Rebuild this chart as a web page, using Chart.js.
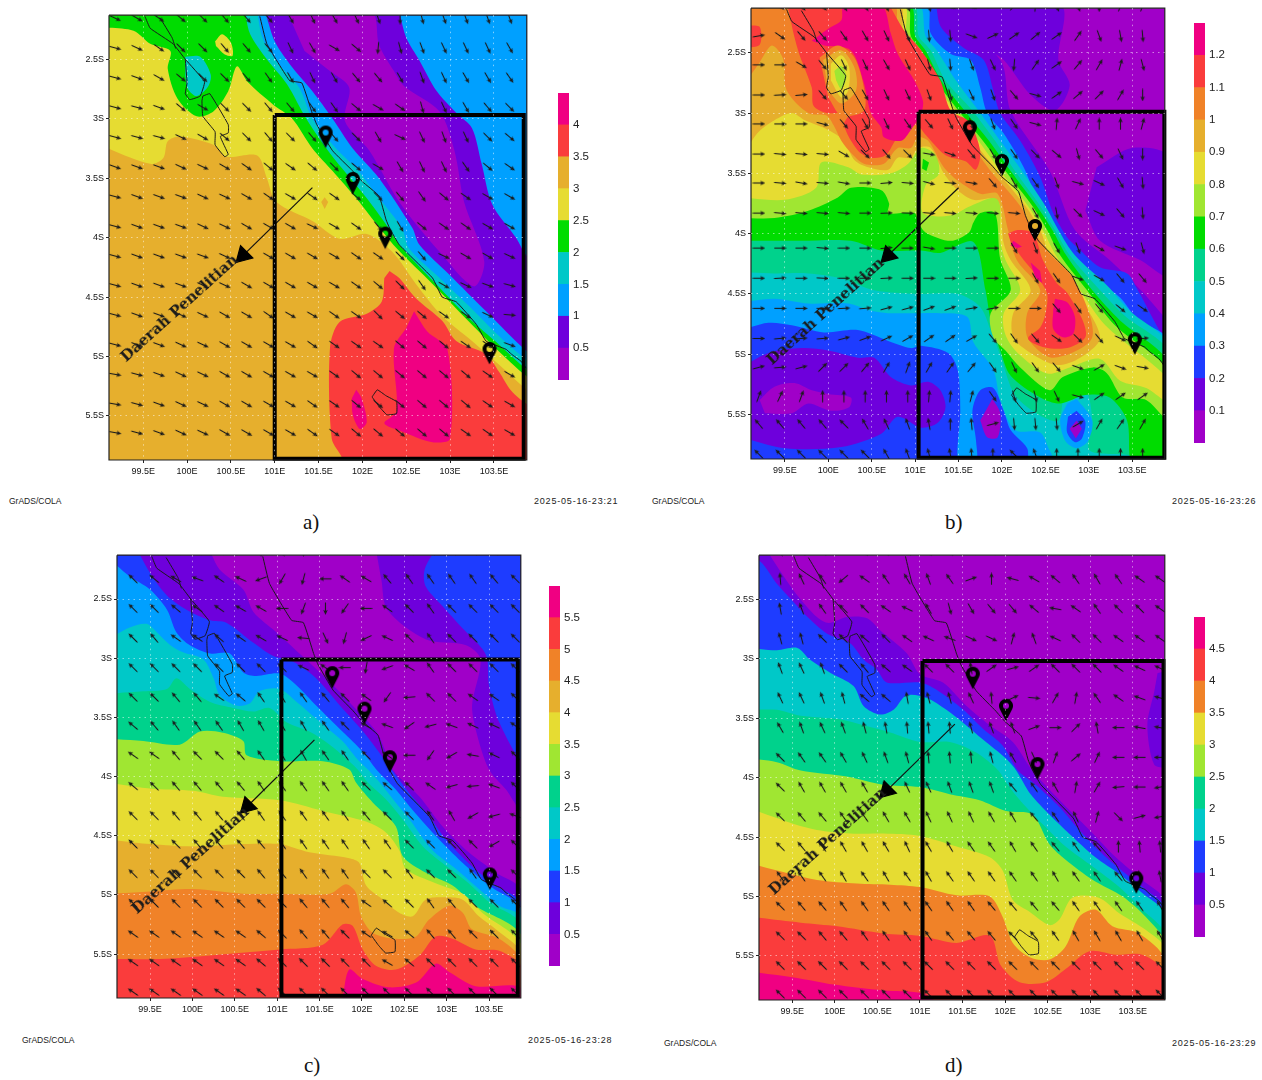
<!DOCTYPE html>
<html>
<head>
<meta charset="utf-8">
<title>GrADS maps</title>
<script src="https://cdn.jsdelivr.net/npm/chart.js@4"></script>
<style>
  html, body { margin: 0; background: #fff; }
  #page { position: relative; width: 1262px; height: 1080px; overflow: hidden; }
  canvas { position: absolute; }
  .stamp { position: absolute; font: 9px "Liberation Sans", sans-serif; color: #222; letter-spacing: .8px; white-space: nowrap; }
  .grads { position: absolute; font: 8.5px "Liberation Sans", sans-serif; color: #222; white-space: nowrap; }
  .caption { position: absolute; font: 21px "Liberation Serif", serif; color: #111; }
  .area { position: absolute; font: bold 15px "DejaVu Serif", serif; color: #1a1a1a; white-space: nowrap; transform: translate(-50%, -50%) rotate(-42deg); }
</style>
</head>
<body>
<div id="page"></div>
<script>
"use strict";

// axis range and ticks, shared by the four maps
const lonRange = [99.11, 103.875];
const latRange = [2.13, 5.87];
const lonTicks = [99.5, 100, 100.5, 101, 101.5, 102, 102.5, 103, 103.5];
const latTicks = [2.5, 3, 3.5, 4, 4.5, 5, 5.5];

// GrADS rainbow
const palette = ["#a000c8", "#6e00dc", "#1e3cff", "#00a0ff", "#00c8c8", "#00d28c", "#00dc00",
                 "#a0e632", "#e6dc32", "#e6af2d", "#f08228", "#fa3c3c", "#f00082"];

// colour bars: labels and palette index of each band
const levelsA = [0.5, 1, 1.5, 2, 2.5, 3, 3.5, 4];
const bandsA = [0, 1, 3, 4, 6, 8, 9, 11, 12];
const levelsB = [0.1, 0.2, 0.3, 0.4, 0.5, 0.6, 0.7, 0.8, 0.9, 1, 1.1, 1.2];
const bandsB = [0, 1, 2, 3, 4, 5, 6, 7, 8, 9, 10, 11, 12];
const levelsC = [0.5, 1, 1.5, 2, 2.5, 3, 3.5, 4, 4.5, 5, 5.5];
const bandsC = [0, 1, 2, 3, 4, 5, 7, 8, 9, 10, 11, 12];
const levelsD = [0.5, 1, 1.5, 2, 2.5, 3, 3.5, 4, 4.5];
const bandsD = [0, 1, 2, 4, 5, 7, 8, 10, 11, 12];

// coastline and islands, lon / lat south
const coastMain = [[100.83,2.14],[100.91,2.37],[101.17,2.68],[101.31,2.70],[101.43,2.96],[101.48,3.05],[101.66,3.27],[101.89,3.44],[102.0,3.53],[102.19,3.65],[102.27,3.85],[102.31,3.92],[102.42,4.06],[102.80,4.34],[102.91,4.50],[103.07,4.54],[103.30,4.73],[103.41,4.87],[103.64,4.94],[103.70,4.98],[103.81,5.04],[103.87,5.10]];
const coastNorth = [[99.52,2.14],[99.58,2.24],[99.84,2.37],[99.98,2.5],[100.2,2.69],[100.15,2.81],[100.03,2.84],[99.98,2.79],[100.0,2.70],[99.98,2.5]];
const coastBranch = [[99.69,2.15],[99.83,2.32],[99.87,2.41]];
const lakeOutline = [[100.18,2.81],[100.26,2.79],[100.47,3.05],[100.47,3.12],[100.38,3.15],[100.47,3.30],[100.43,3.32],[100.32,3.22],[100.32,3.11],[100.18,2.98],[100.17,2.85],[100.18,2.81]];
const islandOutline = [[102.11,5.34],[102.17,5.28],[102.27,5.33],[102.39,5.38],[102.39,5.48],[102.28,5.49],[102.19,5.42],[102.11,5.34]];

// contour areas, painted in order: [palette index, outline]
const contoursA = [
  [9, [[99,2],[104,2],[104,6],[99,6]]],
  [11, [[102.31,4.28],[102.42,4.34],[102.61,4.51],[102.91,4.7],[103.07,4.87],[103.41,4.98],[103.56,5.13],[103.7,5.29],[103.88,5.4],[104,5.42],[104,6],[101.77,6],[101.77,5.86],[101.65,5.69],[101.63,4.93],[101.74,4.71],[102.05,4.64],[102.22,4.54],[102.25,4.34]]],
  [12, [[102.59,4.62],[102.74,4.79],[102.97,4.94],[103.0,5.69],[102.80,5.72],[102.45,5.63],[102.25,5.56],[102.39,5.46],[102.36,4.93],[102.5,4.76]]],
  [12, [[101.93,5.28],[101.99,5.35],[102.05,5.55],[101.97,5.61],[101.89,5.49],[101.88,5.35]]],
  [8, [[99,3.22],[99.58,3.38],[99.73,3.33],[99.78,3.19],[99.92,3.15],[100.30,3.22],[100.45,3.32],[100.80,3.31],[100.91,3.50],[101.02,3.70],[101.43,3.86],[101.74,4.01],[102.05,3.97],[102.34,4.12],[102.61,4.39],[102.91,4.66],[103.25,4.87],[103.56,5.07],[103.88,5.28],[104,5.3],[104,2],[99,2]]],
  [9, [[101.57,3.66],[101.61,3.70],[101.57,3.76],[101.53,3.70]]],
  [6, [[99,2.23],[99.39,2.26],[99.58,2.37],[99.81,2.43],[99.78,2.58],[99.89,2.83],[100.11,2.98],[100.30,2.94],[100.47,2.77],[100.57,2.56],[100.69,2.69],[100.98,2.88],[101.20,3.0],[101.43,3.25],[101.66,3.44],[101.93,3.67],[102.11,3.84],[102.39,4.09],[102.80,4.39],[103.18,4.68],[103.52,4.93],[103.88,5.17],[104,5.2],[104,2],[99,2]]],
  [8, [[100.32,2.35],[100.40,2.29],[100.50,2.36],[100.52,2.47],[100.43,2.46],[100.33,2.39]]],
  [4, [[99.98,2.48],[100.15,2.48],[100.27,2.63],[100.24,2.73],[100.11,2.81],[100.01,2.75],[99.98,2.64]]],
  [4, [[100.66,2.1],[100.72,2.29],[100.91,2.5],[101.14,2.71],[101.36,3.0],[101.59,3.25],[101.77,3.42],[102.05,3.67],[102.27,3.89],[102.42,4.06],[102.84,4.39],[103.22,4.68],[103.56,4.9],[103.88,5.11],[104,5.14],[104,2]]],
  [3, [[100.8,2.1],[100.86,2.32],[101.02,2.52],[101.28,2.74],[101.43,3.0],[101.70,3.25],[101.93,3.42],[102.19,3.67],[102.45,3.92],[102.53,4.09],[102.88,4.34],[103.25,4.6],[103.59,4.85],[103.88,5.03],[104,5.06],[104,2]]],
  [1, [[100.89,2.1],[101.0,2.35],[101.17,2.54],[101.43,2.77],[101.66,3.0],[101.89,3.25],[102.19,3.5],[102.57,3.92],[102.65,4.06],[102.99,4.31],[103.41,4.62],[103.88,4.96],[104,5],[104,2]]],
  [0, [[101.14,2.1],[102.1,2.1],[102.19,2.38],[102.36,2.6],[102.48,2.73],[102.88,2.94],[103.05,3.27],[103.16,3.7],[103.39,4.2],[103.27,4.41],[102.88,4.12],[102.42,3.7],[102.08,3.27],[101.8,3.02],[101.85,2.74],[101.63,2.6],[101.34,2.43]]],
  [3, [[102.42,2.1],[102.5,2.32],[102.65,2.51],[102.84,2.76],[103.07,2.95],[103.25,3.08],[103.36,3.38],[103.48,3.72],[103.75,4.0],[103.88,4.16],[104,4.2],[104,2]]]
];

const contoursB = [
  [0, [[99,2],[104,2],[104,6],[99,6]]],
  [1, [[101.24,2.1],[101.98,2.56],[102.10,2.98],[102.55,3.48],[102.84,3.97],[103.24,4.22],[103.70,4.55],[103.93,4.80],[104,6.1],[99,6.1],[99,2.1]]],
  [1, [[101.18,2.1],[102.67,2.1],[102.65,2.56],[102.78,2.77],[102.61,2.98],[102.33,2.85],[102.02,2.56],[101.87,2.50],[101.24,2.44]]],
  [1, [[103.09,3.45],[103.50,3.29],[103.93,3.37],[103.93,4.35],[103.59,4.22],[103.13,4.06],[102.96,3.81]]],
  [2, [[101.24,2.1],[101.30,2.29],[101.56,2.46],[101.79,2.56],[101.90,2.81],[101.98,3.0],[102.21,3.23],[102.44,3.53],[102.59,3.83],[102.75,4.03],[102.86,4.11],[103.13,4.28],[103.44,4.33],[103.55,4.45],[103.81,4.80],[103.93,4.93],[104,6.1],[99,6.1],[99,2.1]]],
  [3, [[99,4.80],[99.31,4.74],[99.58,4.76],[99.95,4.82],[100.34,4.80],[100.69,4.89],[100.95,4.95],[101.07,4.93],[101.38,4.99],[101.49,5.13],[101.52,5.47],[101.50,5.92],[101.70,5.92],[101.70,5.71],[101.66,5.47],[101.75,5.30],[101.90,5.28],[102.02,5.47],[102.10,5.63],[102.29,5.78],[102.33,5.92],[103.93,5.92],[103.93,4.90],[103.55,4.70],[103.36,4.53],[103.05,4.36],[102.70,4.14],[102.63,4.0],[102.44,3.78],[102.25,3.45],[102.02,3.17],[101.83,3.0],[101.75,2.79],[101.64,2.56],[101.41,2.51],[101.18,2.34],[101.12,2.1],[99,2.1]]],
  [4, [[99,4.57],[99.38,4.54],[99.77,4.58],[100.23,4.58],[100.49,4.64],[100.69,4.66],[101.03,4.66],[101.29,4.66],[101.60,4.69],[101.67,4.90],[101.90,5.13],[101.98,5.38],[102.15,5.63],[102.44,5.65],[102.55,5.80],[102.67,5.92],[103.93,5.92],[103.93,4.94],[103.47,4.64],[103.21,4.43],[102.84,4.18],[102.65,3.97],[102.50,3.77],[102.23,3.48],[101.98,3.23],[101.73,2.98],[101.47,2.73],[101.25,2.48],[101.12,2.36],[101.03,2.1],[99,2.1]]],
  [5, [[99,4.32],[99.38,4.33],[99.77,4.33],[100.15,4.37],[100.53,4.47],[101.03,4.50],[101.49,4.50],[101.75,4.61],[101.87,4.80],[101.98,5.01],[102.15,5.34],[102.44,5.51],[102.65,5.55],[102.73,5.34],[102.96,5.30],[103.04,5.55],[103.01,5.80],[103.47,5.84],[103.47,5.92],[103.93,5.92],[103.93,5.0],[103.41,4.68],[103.13,4.47],[102.78,4.18],[102.61,3.97],[102.44,3.77],[102.15,3.48],[101.92,3.23],[101.66,2.98],[101.35,2.73],[101.18,2.48],[101.04,2.36],[100.97,2.1],[99,2.1]]],
  [6, [[99,4.06],[99.69,4.06],[100.26,4.06],[100.61,4.14],[101.07,4.14],[101.29,4.16],[101.67,4.07],[101.81,4.47],[101.87,4.72],[101.98,4.97],[102.10,5.18],[102.44,5.36],[102.67,5.41],[102.96,5.34],[103.24,5.36],[103.44,5.55],[103.51,5.92],[103.93,5.92],[103.93,5.09],[103.36,4.72],[103.04,4.47],[102.74,4.18],[102.58,3.97],[102.40,3.77],[102.10,3.48],[101.85,3.23],[101.57,2.98],[101.30,2.73],[101.12,2.48],[101.0,2.36],[100.93,2.1],[99,2.1]]],
  [7, [[99,3.87],[99.38,3.87],[99.77,3.81],[100.11,3.70],[100.26,3.62],[100.61,3.64],[100.70,3.75],[100.69,3.83],[100.99,3.83],[101.04,3.91],[101.12,3.99],[101.41,4.06],[101.62,3.99],[101.67,3.91],[101.75,3.83],[101.92,3.83],[101.98,4.21],[102.10,4.47],[101.87,4.66],[101.90,4.86],[102.04,4.97],[102.21,5.11],[102.55,5.30],[102.70,5.19],[103.05,5.11],[103.21,5.16],[103.39,5.36],[103.66,5.38],[103.93,5.55],[103.93,5.15],[103.30,4.76],[102.98,4.47],[102.67,4.18],[102.52,3.97],[102.35,3.77],[102.04,3.48],[101.78,3.23],[101.50,2.98],[101.24,2.73],[101.07,2.48],[100.95,2.36],[100.89,2.1],[99,2.1]]],
  [8, [[99,3.70],[99.5,3.72],[99.86,3.62],[99.92,3.41],[100.23,3.45],[100.38,3.51],[100.72,3.50],[100.92,3.42],[101.07,3.29],[101.24,3.35],[101.27,3.51],[101.12,3.60],[101.09,3.83],[101.41,3.85],[101.64,3.77],[101.95,3.71],[101.98,4.06],[102.04,4.22],[102.21,4.47],[102.02,4.66],[102.04,4.84],[102.18,4.99],[102.52,5.16],[102.78,5.11],[103.13,5.04],[103.36,5.22],[103.66,5.28],[103.93,5.40],[103.93,5.22],[103.19,4.76],[102.90,4.47],[102.62,4.18],[102.47,3.97],[102.30,3.77],[101.98,3.48],[101.73,3.23],[101.47,2.98],[101.18,2.73],[101.01,2.48],[100.90,2.36],[100.86,2.1],[99,2.1]]],
  [9, [[99,3.37],[99.18,3.17],[99.38,3.06],[99.58,3.0],[99.73,3.06],[100.0,3.14],[100.18,3.23],[100.30,3.39],[100.46,3.45],[100.69,3.47],[100.80,3.37],[100.95,3.37],[101.03,3.29],[101.18,3.29],[101.33,3.50],[101.49,3.64],[101.67,3.72],[101.95,3.72],[102.02,4.08],[102.10,4.22],[102.33,4.47],[102.13,4.66],[102.13,4.86],[102.33,4.99],[102.63,5.09],[102.90,5.03],[103.13,4.86],[102.84,4.47],[102.55,4.18],[102.44,3.97],[102.27,3.77],[101.94,3.48],[101.67,3.23],[101.41,2.98],[101.12,2.73],[100.95,2.48],[100.86,2.36],[100.81,2.1],[99,2.1]]],
  [10, [[99,2.79],[99.2,2.59],[99.35,2.44],[99.48,2.55],[99.52,2.81],[99.77,3.0],[99.98,3.02],[100.06,3.10],[100.15,3.23],[100.26,3.33],[100.41,3.42],[100.64,3.42],[100.80,3.29],[100.95,3.29],[101.03,3.20],[101.15,3.23],[101.33,3.45],[101.49,3.56],[101.75,3.67],[101.95,3.67],[102.07,3.97],[102.17,4.22],[102.44,4.47],[102.29,4.66],[102.30,4.87],[102.59,5.03],[103.04,4.86],[102.84,4.39],[102.52,4.14],[102.36,3.97],[102.21,3.77],[101.87,3.48],[101.62,3.23],[101.38,2.98],[101.08,2.73],[100.89,2.48],[100.79,2.31],[100.75,2.1],[99,2.1]]],
  [11, [[99.53,2.1],[99.60,2.34],[99.67,2.52],[99.81,2.79],[99.83,2.94],[99.98,3.0],[100.24,3.0],[100.18,3.10],[100.34,3.31],[100.49,3.37],[100.66,3.35],[100.80,3.20],[101.01,3.10],[101.12,3.18],[101.35,3.35],[101.58,3.40],[101.70,3.47],[101.75,3.32],[101.62,3.07],[101.41,2.98],[101.29,2.73],[101.07,2.48],[100.87,2.31],[100.70,2.1]]],
  [11, [[99,2.28],[99.2,2.28],[99.23,2.36],[99.2,2.44],[99,2.46]]],
  [11, [[102.07,4.0],[102.18,3.97],[102.36,4.0],[102.47,4.22],[102.63,4.41],[102.75,4.49],[102.93,4.72],[102.96,4.86],[102.75,4.95],[102.47,4.94],[102.30,4.87],[102.44,4.78],[102.50,4.67],[102.52,4.50],[102.41,4.36],[102.25,4.22],[102.10,4.07]]],
  [12, [[99.81,2.40],[100.0,2.30],[100.15,2.23],[100.18,2.1],[100.61,2.1],[100.72,2.34],[100.80,2.51],[100.99,2.73],[101.09,2.90],[101.07,3.0],[100.95,3.14],[100.84,3.23],[100.64,3.20],[100.61,3.12],[100.49,3.0],[100.41,2.75],[100.26,2.48],[99.95,2.44]]],
  [10, [[99.9,2.54],[100.11,2.44],[100.30,2.54],[100.41,2.79],[100.41,2.98],[100.15,3.02],[100.0,2.87]]],
  [9, [[99.94,2.56],[100.15,2.48],[100.30,2.62],[100.32,2.81],[100.15,2.92],[100.0,2.81]]],
  [8, [[100.03,2.59],[100.15,2.52],[100.24,2.62],[100.23,2.81],[100.15,2.87],[100.03,2.73]]],
  [7, [[100.07,2.65],[100.15,2.61],[100.21,2.70],[100.15,2.80],[100.09,2.73]]],
  [12, [[102.13,4.06],[102.23,4.11],[102.18,4.12],[102.10,4.10]]],
  [12, [[102.33,4.24],[102.44,4.31],[102.46,4.41],[102.38,4.36]]],
  [12, [[102.61,4.54],[102.75,4.57],[102.84,4.69],[102.82,4.83],[102.70,4.86],[102.59,4.79],[102.59,4.64]]],
  [6, [[101.09,3.38],[101.16,3.41],[101.13,3.48],[101.08,3.46]]],
  [1, [[99,5.11],[99.31,4.99],[99.69,4.95],[100.0,4.97],[100.34,5.03],[100.53,5.03],[100.72,5.19],[100.95,5.26],[101.15,5.23],[101.29,5.30],[101.35,5.44],[101.26,5.57],[101.07,5.61],[100.80,5.52],[100.61,5.66],[100.15,5.77],[99.5,5.78],[99,5.69]]],
  [0, [[99.21,5.38],[99.38,5.27],[99.61,5.24],[99.81,5.30],[100.0,5.33],[100.26,5.36],[100.24,5.44],[100.03,5.47],[99.77,5.41],[99.58,5.49],[99.27,5.49]]],
  [0, [[101.89,5.37],[101.98,5.49],[101.95,5.69],[101.83,5.69],[101.75,5.55]]],
  [3, [[102.86,5.37],[103.04,5.55],[102.99,5.72],[102.86,5.78],[102.73,5.72],[102.67,5.55],[102.75,5.41]]],
  [2, [[102.86,5.47],[102.96,5.56],[102.92,5.70],[102.84,5.73],[102.75,5.65],[102.76,5.52]]],
  [0, [[102.86,5.55],[102.92,5.62],[102.85,5.70],[102.78,5.62]]]
];

const contoursC = [
  [0, [[99,2],[104,2],[104,6],[99,6]]],
  [1, [[100.21,2.1],[100.32,2.25],[100.60,2.42],[100.72,2.61],[100.99,2.78],[101.34,3.01],[101.58,3.17],[101.85,3.37],[102.17,3.62],[102.28,3.79],[102.36,3.94],[102.68,4.17],[102.95,4.42],[103.26,4.64],[103.58,4.81],[103.89,4.97],[104,6.2],[99,6.2],[99,2.1]]],
  [1, [[102.17,2.1],[102.23,2.34],[102.30,2.59],[102.75,2.84],[103.23,2.89],[103.40,3.01],[103.30,3.40],[103.36,3.65],[103.50,3.94],[103.70,4.11],[103.89,4.28],[104,2.1]]],
  [2, [[102.85,2.1],[102.74,2.25],[102.75,2.39],[102.95,2.56],[103.19,2.75],[103.42,2.92],[103.48,3.01],[103.5,3.23],[103.62,3.54],[103.89,3.84],[104,2.1]]],
  [2, [[99.36,2.1],[99.5,2.28],[99.70,2.47],[99.93,2.59],[100.21,2.68],[100.40,2.70],[100.72,2.87],[100.95,2.98],[101.19,3.03],[101.46,3.17],[101.74,3.40],[102.05,3.65],[102.28,3.87],[102.56,4.14],[102.79,4.33],[102.99,4.53],[103.30,4.76],[103.58,4.92],[103.89,5.08],[104,6.2],[99,6.2],[99,2.1]]],
  [3, [[99,2.15],[99.26,2.31],[99.5,2.42],[99.70,2.59],[99.81,2.78],[99.97,2.89],[100.21,2.96],[100.44,2.96],[100.6,3.12],[100.75,3.15],[101.03,3.13],[101.23,3.23],[101.46,3.40],[101.77,3.62],[102.01,3.79],[102.17,3.94],[102.4,4.11],[102.56,4.25],[102.87,4.50],[103.19,4.73],[103.5,4.92],[103.89,5.13],[104,6.2],[99,6.2]]],
  [4, [[99,2.84],[99.26,2.74],[99.46,2.71],[99.58,2.78],[99.74,2.89],[99.89,2.95],[100.13,3.01],[100.25,3.17],[100.32,3.31],[100.52,3.40],[100.68,3.38],[100.79,3.28],[101.03,3.26],[101.23,3.37],[101.54,3.56],[101.77,3.70],[101.93,3.84],[102.07,3.94],[102.21,4.05],[102.40,4.22],[102.56,4.36],[102.83,4.62],[103.11,4.78],[103.38,4.95],[103.62,5.09],[103.89,5.19],[104,6.2],[99,6.2]]],
  [5, [[99,3.30],[99.42,3.28],[99.70,3.26],[99.81,3.17],[99.97,3.26],[100.21,3.37],[100.48,3.42],[100.72,3.45],[100.91,3.42],[101.11,3.54],[101.38,3.62],[101.62,3.73],[101.85,3.87],[101.95,3.94],[102.07,4.05],[102.28,4.19],[102.48,4.36],[102.72,4.59],[102.95,4.73],[103.26,4.90],[103.5,5.06],[103.89,5.26],[104,6.2],[99,6.2]]],
  [7, [[99,3.68],[99.42,3.70],[99.85,3.73],[100.09,3.62],[100.36,3.63],[100.60,3.70],[100.64,3.82],[101.03,3.87],[101.54,3.87],[101.85,3.94],[101.93,4.05],[102.13,4.22],[102.40,4.42],[102.48,4.67],[102.75,4.81],[103.07,4.92],[103.34,5.09],[103.89,5.35],[104,6.2],[99,6.2]]],
  [8, [[99,4.05],[99.5,4.10],[100.01,4.12],[100.36,4.17],[101.03,4.20],[101.54,4.29],[102.05,4.38],[102.28,4.47],[102.44,4.62],[102.52,4.78],[102.87,4.90],[103.19,4.99],[103.42,5.15],[103.89,5.43],[104,6.2],[99,6.2]]],
  [9, [[99,4.53],[99.5,4.57],[100.01,4.59],[100.6,4.57],[101.03,4.57],[101.38,4.64],[101.85,4.69],[101.97,4.73],[102.05,4.92],[102.25,5.04],[102.44,5.15],[102.60,5.18],[102.75,5.04],[102.95,5.02],[103.19,5.04],[103.38,5.18],[103.58,5.29],[103.89,5.50],[104,6.2],[99,6.2]]],
  [10, [[99,4.99],[99.5,4.97],[100.01,4.95],[100.6,4.99],[101.03,4.99],[101.62,4.99],[101.81,4.91],[101.93,4.98],[101.99,5.18],[102.13,5.32],[102.40,5.37],[102.64,5.35],[102.79,5.21],[103.03,5.09],[103.19,5.15],[103.30,5.29],[103.62,5.37],[103.89,5.56],[104,6.2],[99,6.2]]],
  [11, [[99,5.54],[99.62,5.54],[100.21,5.51],[101.03,5.46],[101.54,5.42],[101.77,5.25],[101.89,5.26],[102.01,5.46],[102.17,5.60],[102.40,5.63],[102.68,5.51],[102.87,5.35],[103.07,5.37],[103.34,5.46],[103.62,5.47],[103.89,5.61],[104,6.2],[99,6.2]]],
  [12, [[101.77,5.88],[101.85,5.63],[102.01,5.71],[102.32,5.78],[102.64,5.74],[102.87,5.58],[103.03,5.65],[103.34,5.77],[103.89,5.79],[104,6.2],[101.7,6.2]]]
];

const contoursD = [
  [0, [[99,2],[104,2],[104,6],[99,6]]],
  [1, [[99.21,2.1],[99.52,2.43],[99.79,2.65],[99.93,2.70],[100.14,2.65],[100.38,2.66],[100.53,2.76],[100.84,2.95],[101.0,3.13],[101.27,3.20],[101.55,3.40],[101.82,3.56],[102.09,3.70],[102.32,3.94],[102.64,4.19],[102.99,4.44],[103.30,4.67],[103.61,4.86],[103.88,5.04],[104,6.2],[99,6.2],[99,2.1]]],
  [1, [[103.79,3.12],[103.9,3.12],[103.9,3.90],[103.75,3.89],[103.67,3.56],[103.75,3.28]]],
  [2, [[99,2.12],[99.15,2.20],[99.32,2.37],[99.5,2.51],[99.68,2.65],[99.91,2.79],[100.18,2.87],[100.34,3.01],[100.49,3.09],[100.61,3.20],[101.0,3.20],[101.19,3.26],[101.51,3.43],[101.74,3.59],[101.97,3.73],[102.15,3.94],[102.36,4.06],[102.64,4.25],[102.87,4.44],[103.14,4.64],[103.42,4.81],[103.65,4.94],[103.88,5.10],[104,6.2],[99,6.2]]],
  [4, [[99,2.91],[99.32,2.93],[99.56,2.91],[99.71,3.01],[99.95,3.12],[100.22,3.23],[100.34,3.40],[100.53,3.47],[100.69,3.43],[100.84,3.31],[101.08,3.33],[101.31,3.43],[101.51,3.54],[101.74,3.68],[102.01,3.84],[102.13,3.94],[102.30,4.14],[102.52,4.31],[102.75,4.47],[103.06,4.67],[103.34,4.81],[103.61,4.97],[103.88,5.15],[104,6.2],[99,6.2]]],
  [5, [[99,3.43],[99.32,3.43],[99.60,3.48],[100.06,3.51],[100.34,3.56],[100.65,3.62],[101.0,3.70],[101.35,3.70],[101.66,3.79],[101.92,3.94],[102.03,4.06],[102.21,4.22],[102.48,4.42],[102.71,4.58],[103.03,4.75],[103.34,4.92],[103.61,5.11],[103.88,5.32],[104,6.2],[99,6.2]]],
  [7, [[99,3.84],[99.32,3.87],[99.60,3.94],[100.14,3.99],[100.57,4.06],[101.0,4.08],[101.35,4.14],[101.70,4.19],[102.01,4.28],[102.32,4.31],[102.52,4.56],[102.71,4.69],[103.03,4.86],[103.38,5.0],[103.65,5.17],[103.88,5.39],[104,6.2],[99,6.2]]],
  [8, [[99,4.26],[99.52,4.39],[99.79,4.44],[100.18,4.47],[100.57,4.47],[101.0,4.49],[101.43,4.58],[101.82,4.67],[101.97,4.78],[102.09,5.03],[102.29,5.13],[102.52,5.24],[102.64,5.19],[102.79,5.01],[103.10,5.01],[103.34,5.14],[103.65,5.28],[103.88,5.44],[104,6.2],[99,6.2]]],
  [10, [[99,4.72],[99.48,4.81],[99.79,4.86],[100.26,4.89],[100.65,4.90],[101.0,4.92],[101.43,4.99],[101.82,5.0],[101.97,5.17],[102.09,5.39],[102.29,5.51],[102.52,5.53],[102.71,5.42],[102.87,5.17],[103.06,5.11],[103.26,5.25],[103.57,5.31],[103.88,5.53],[104,6.2],[99,6.2]]],
  [11, [[99,5.17],[99.60,5.22],[100.03,5.25],[100.57,5.31],[101.0,5.33],[101.43,5.39],[101.82,5.33],[101.95,5.58],[102.17,5.72],[102.48,5.72],[102.71,5.61],[102.99,5.46],[103.30,5.49],[103.61,5.49],[103.88,5.64],[104,6.2],[99,6.2]]],
  [12, [[99,5.63],[99.52,5.68],[99.99,5.74],[100.57,5.79],[101.0,5.81],[101.19,5.89],[101.19,5.95],[99,5.95]]]
];

// wind vectors: grid positions and direction of each arrow (degrees clockwise from east)
const windLonA = [99.18,99.43,99.68,99.93,100.18,100.43,100.68,100.93,101.18,101.43,101.68,101.93,102.18,102.43,102.68,102.93,103.18,103.43,103.68];
const windLatA = [2.155,2.405,2.655,2.905,3.155,3.405,3.655,3.905,4.155,4.4,4.65,4.9,5.15,5.4,5.64];
const windDirA = [
  [25,30,35,40,45,50,50,50,60,65,60,65,70,90,75,70,70,70,70],
  [15,25,35,45,45,50,50,50,65,60,30,40,95,75,70,65,65,65,60],
  [15,20,30,40,45,45,50,55,60,65,60,50,50,60,70,65,60,60,55],
  [15,15,20,40,30,45,45,50,50,55,55,40,30,35,75,65,60,50,45],
  [15,15,15,25,30,40,45,50,45,50,50,45,60,25,65,70,65,45,40],
  [20,20,20,25,25,30,35,40,35,40,45,40,30,60,65,65,55,40,35],
  [15,20,20,20,25,25,30,35,30,35,35,40,45,50,55,40,35,30,30],
  [15,20,20,20,25,25,30,30,30,25,30,35,50,60,40,35,35,30,30],
  [15,20,20,20,20,25,25,30,30,30,30,35,35,45,50,25,30,30,25],
  [15,20,20,20,25,25,30,30,30,30,30,35,40,45,55,30,25,20,15],
  [15,20,20,25,25,30,30,35,30,30,35,35,45,40,40,35,35,25,5],
  [15,20,20,25,25,30,30,30,30,35,35,35,35,40,40,40,35,35,20],
  [10,15,20,25,25,30,30,30,30,30,35,40,40,40,40,40,40,35,30],
  [10,15,20,25,25,30,30,30,30,35,35,40,40,40,40,40,40,35,30],
  [10,15,20,25,25,30,30,30,30,35,35,40,40,40,40,40,35,35,30]
];

const windLonB = [99.2,99.445,99.69,99.935,100.18,100.425,100.67,100.915,101.16,101.405,101.65,101.895,102.14,102.385,102.63,102.875,103.12,103.365,103.62];
const windLatB = [2.11,2.36,2.6,2.85,3.09,3.34,3.58,3.83,4.12,4.37,4.62,4.87,5.11,5.35,5.58,5.83];
const windDirB = [
  [20,40,50,50,60,60,70,70,75,30,30,-20,-50,-85,70,70,90,-70,-70],
  [-10,35,50,50,55,60,65,70,85,85,20,-25,-35,-40,-35,-55,70,80,85],
  [0,0,30,50,65,65,60,65,75,85,70,65,95,-55,-35,-50,-60,-75,75],
  [0,-3,-5,50,50,60,65,65,70,75,65,70,50,15,-35,-40,-45,-60,90],
  [0,0,0,15,50,60,65,55,50,65,70,70,55,15,-85,-65,-90,-90,-75],
  [0,5,5,5,30,45,50,45,10,20,50,60,55,45,40,75,50,65,90],
  [0,5,10,5,10,0,-5,5,15,5,10,50,60,55,70,15,25,60,85],
  [0,5,5,5,5,0,-2,2,5,5,5,5,5,60,80,45,25,50,85],
  [0,0,0,5,0,0,-5,0,10,0,0,0,60,70,60,70,30,20,75],
  [0,-3,0,3,0,0,-3,0,0,0,-3,0,0,60,55,20,30,50,50],
  [0,0,0,0,-3,-5,-15,-15,-20,-20,-10,-10,0,0,50,55,50,40,35],
  [0,-5,-5,-5,-15,-20,-25,-30,-35,-35,-30,50,55,50,35,45,50,25,-5],
  [-15,-5,-15,-45,-45,-50,-60,-70,-60,-55,-50,55,65,55,50,20,-30,20,10],
  [-70,-65,-70,-90,-90,-90,-90,-90,-85,-85,-75,55,75,75,65,15,-35,-35,-35],
  [230,230,230,230,225,240,245,250,260,270,265,-15,85,85,85,-30,-60,-55,-60],
  [225,225,225,225,225,225,240,250,255,260,265,270,225,250,270,270,270,270,270]
];

const windLonC = [99.3,99.55,99.805,100.06,100.315,100.57,100.81,101.06,101.31,101.57,101.8,102.05,102.3,102.56,102.81,103.06,103.31,103.56,103.81];
const windLatC = [2.09,2.33,2.58,2.83,3.08,3.33,3.57,3.82,4.08,4.33,4.57,4.82,5.07,5.33,5.57,5.82];
const windDirC = [
  [225,225,225,225,225,135,90,70,90,225,225,225,225,225,230,230,230,230,225],
  [225,220,210,200,215,205,160,120,105,180,215,210,230,235,235,235,235,230,225],
  [225,225,220,215,215,210,210,180,110,90,125,180,215,225,235,225,225,225,225],
  [225,230,215,215,220,215,210,205,185,65,105,155,205,225,235,225,225,225,225],
  [225,225,225,225,225,225,225,225,205,215,180,100,160,210,235,225,225,225,225],
  [225,225,230,230,215,220,235,240,235,230,225,215,125,175,225,225,215,215,225],
  [220,230,235,235,235,240,240,240,240,235,225,210,200,145,165,200,205,205,215],
  [215,215,230,225,225,230,235,240,240,235,235,225,215,180,125,150,190,205,225],
  [220,225,230,230,230,230,235,235,235,235,235,225,220,225,215,165,175,200,225],
  [225,225,230,230,230,230,235,235,235,235,235,230,225,225,235,240,150,165,200],
  [225,225,225,230,230,230,230,235,235,235,235,235,235,225,225,225,225,150,225],
  [225,225,225,225,225,225,230,230,235,235,235,225,225,235,225,225,235,225,225],
  [225,225,225,225,225,225,225,225,230,230,230,215,220,225,235,230,225,225,225],
  [215,215,215,215,215,215,220,225,230,230,225,215,210,220,230,230,225,225,225],
  [215,215,215,215,215,215,220,225,225,225,225,225,210,220,225,225,225,225,225],
  [215,215,215,215,215,215,220,225,225,225,225,225,225,225,225,225,225,225,225]
];

const windLonD = [99.36,99.61,99.855,100.1,100.35,100.6,100.85,101.1,101.35,101.6,101.84,102.09,102.34,102.59,102.83,103.08,103.33,103.58,103.82];
const windLatD = [2.09,2.33,2.58,2.83,3.08,3.33,3.58,3.83,4.08,4.33,4.58,4.83,5.08,5.33,5.58,5.82];
const windDirD = [
  [250,235,235,140,60,60,235,60,60,225,225,225,225,225,225,225,225,225,225],
  [265,245,235,140,215,235,240,250,235,340,270,195,210,220,235,240,235,215,215],
  [260,250,235,225,225,215,205,240,75,60,50,50,220,190,215,235,225,225,215],
  [255,255,225,225,220,225,215,205,200,25,25,285,250,205,225,225,215,215,215],
  [250,245,250,225,230,220,215,225,225,260,325,345,325,225,225,225,215,205,205],
  [245,245,250,255,220,220,260,255,255,245,265,335,5,300,280,235,215,200,195],
  [240,250,245,250,255,260,265,265,265,255,250,250,340,0,315,260,180,190,190],
  [225,235,235,240,245,250,255,265,265,265,255,240,65,290,320,295,180,180,180],
  [225,240,240,240,240,240,245,245,250,250,250,230,235,240,280,300,175,180,170],
  [225,230,230,235,235,240,240,245,245,245,240,240,230,235,245,285,45,345,170],
  [225,230,235,240,240,240,245,240,240,235,235,240,235,230,235,230,270,265,265],
  [235,235,235,240,235,240,235,240,235,235,235,235,235,240,235,235,230,260,260],
  [225,230,230,235,235,235,235,235,235,235,230,230,230,230,235,235,235,235,240],
  [225,225,230,230,235,235,235,235,230,230,230,225,230,235,240,240,240,240,240],
  [225,225,225,225,225,225,225,225,225,225,225,225,225,225,225,225,225,225,225],
  [225,225,225,225,225,225,225,225,225,225,225,225,225,225,225,225,225,225,225]
];

// markers, study box and pointer of each map
const pinsA = [[101.58,3.15],[101.89,3.54],[102.26,4.0],[103.45,4.97]];
const pinsB = [[101.63,3.15],[102.0,3.43],[102.38,3.97],[103.53,4.91]];
const pinsC = [[101.65,3.16],[102.03,3.46],[102.33,3.87],[103.51,4.86]];
const pinsD = [[101.62,3.16],[102.01,3.43],[102.38,3.92],[103.54,4.88]];
const boxA = [[101.0,2.97],[103.84,2.97],[103.84,5.86],[101.0,5.86],[101.0,2.97]];
const boxB = [[101.04,2.99],[103.87,2.99],[103.87,5.86],[101.04,5.86],[101.04,2.99]];
const boxC = [[101.05,3.01],[103.84,3.01],[103.84,5.85],[101.05,5.85],[101.05,3.01]];
const boxD = [[101.03,3.02],[103.86,3.02],[103.86,5.85],[101.03,5.85],[101.03,3.02]];
const pointerA = [[101.43,3.58],[100.64,4.15]];
const pointerB = [[101.5,3.62],[100.69,4.18]];
const pointerC = [[101.44,3.69],[100.65,4.25]];
const pointerD = [[101.41,3.55],[100.61,4.11]];

const page = document.getElementById("page");

function xy(list) { return list.map(p => ({ x: p[0], y: p[1] })); }

function addCanvas(left, top, width, height) {
  const c = document.createElement("canvas");
  c.width = width; c.height = height;
  c.style.left = left + "px"; c.style.top = top + "px";
  c.style.width = width + "px"; c.style.height = height + "px";
  page.appendChild(c);
  return c;
}

function addText(cls, text, left, top) {
  const d = document.createElement("div");
  d.className = cls;
  d.textContent = text;
  d.style.left = left + "px"; d.style.top = top + "px";
  page.appendChild(d);
}

function arrowGlyph() {
  const c = document.createElement("canvas");
  c.width = 13; c.height = 7;
  const g = c.getContext("2d");
  g.strokeStyle = g.fillStyle = "#1a1a1a";
  g.lineWidth = 1.1;
  g.beginPath(); g.moveTo(0.5, 3.5); g.lineTo(9.5, 3.5); g.stroke();
  g.beginPath(); g.moveTo(13, 3.5); g.lineTo(8, 1.2); g.lineTo(9, 3.5); g.lineTo(8, 5.8); g.closePath(); g.fill();
  return c;
}

function pinGlyph() {
  const c = document.createElement("canvas");
  c.width = 16; c.height = 24;
  const g = c.getContext("2d");
  g.fillStyle = "#000";
  g.beginPath();
  g.arc(8, 8, 7, Math.PI * 0.85, Math.PI * 0.15);
  g.lineTo(8, 23.5);
  g.closePath();
  g.fill();
  g.globalCompositeOperation = "destination-out";
  g.beginPath(); g.arc(8, 8, 3, 0, Math.PI * 2); g.fill();
  return c;
}

const arrowImg = arrowGlyph();
const pinImg = pinGlyph();

function drawMap(frame, contours, windLon, windLat, windDir, pins, box, pointer) {
  const pad = 40;
  const canvas = addCanvas(frame[0] - pad, frame[1] - 10, frame[2] - frame[0] + pad + 10, frame[3] - frame[1] + 36);

  const arrows = [];
  windLat.forEach(la => windLon.forEach(lo => arrows.push({ x: lo, y: la })));

  const datasets = contours.map((c, i) => ({
    data: xy(c[1]), showLine: true, fill: "shape", tension: c[1].length > 4 ? 0.3 : 0,
    backgroundColor: palette[c[0]], borderWidth: 0, pointRadius: 0, order: 200 - i
  }));
  [coastMain, coastNorth, coastBranch, lakeOutline, islandOutline].forEach(line => {
    datasets.push({ data: xy(line), showLine: true, fill: false, tension: 0.1, borderColor: "#1a1a1a", borderWidth: 1, pointRadius: 0, order: 5 });
  });
  datasets.push({ data: arrows, showLine: false, pointStyle: arrowImg, pointRadius: 7, pointRotation: windDir.flat(), order: 4 });
  datasets.push({
    data: xy(pointer), showLine: true, borderColor: "#111", borderWidth: 1.2, order: 3, clip: false,
    pointStyle: "triangle", pointRadius: [0, 10], pointRotation: [0, 225], pointBackgroundColor: "#000", pointBorderColor: "#000"
  });
  datasets.push({ data: xy(box), showLine: true, borderColor: "#000", borderWidth: 4, pointRadius: 0, order: 2, clip: false });
  datasets.push({
    data: xy([[lonRange[0], latRange[0]], [lonRange[1], latRange[0]], [lonRange[1], latRange[1]], [lonRange[0], latRange[1]], [lonRange[0], latRange[0]]]),
    showLine: true, borderColor: "#222", borderWidth: 1.2, pointRadius: 0, order: 1, clip: false
  });
  datasets.push({ data: xy(pins), showLine: false, pointStyle: pinImg, pointRadius: 10, order: 0, clip: false });

  new Chart(canvas, {
    type: "scatter",
    data: { datasets: datasets },
    options: {
      responsive: false, animation: false, events: [],
      layout: { padding: { top: 10, right: 10, left: 0, bottom: 0 } },
      plugins: { legend: { display: false }, tooltip: { enabled: false } },
      scales: {
        x: {
          type: "linear", min: lonRange[0], max: lonRange[1],
          afterBuildTicks: s => { s.ticks = lonTicks.map(v => ({ value: v })); },
          afterFit: s => { s.height = 26; },
          grid: { color: "rgba(255,255,255,0.5)", z: 1, tickColor: "#222", tickLength: 3, lineWidth: 1 },
          border: { dash: [1.5, 4], display: false },
          ticks: { callback: v => v + "E", color: "#111", font: { family: "Liberation Sans", size: 9 }, maxRotation: 0, autoSkip: false, padding: 3 }
        },
        y: {
          type: "linear", reverse: true, min: latRange[0], max: latRange[1],
          afterBuildTicks: s => { s.ticks = latTicks.map(v => ({ value: v })); },
          afterFit: s => { s.width = pad; },
          grid: { color: "rgba(255,255,255,0.5)", z: 1, tickColor: "#222", tickLength: 3, lineWidth: 1 },
          border: { dash: [1.5, 4], display: false },
          ticks: { callback: v => v + "S", color: "#111", font: { family: "Liberation Sans", size: 9 }, autoSkip: false, padding: 2 }
        }
      }
    }
  });
}

function drawBar(left, top, height, levels, bands) {
  const canvas = addCanvas(left, top, 44, height);
  const step = levels[1] - levels[0];
  const datasets = bands.map(b => ({ data: [step], backgroundColor: palette[b], barPercentage: 1, categoryPercentage: 1 }));
  new Chart(canvas, {
    type: "bar",
    data: { labels: [""], datasets: datasets },
    options: {
      responsive: false, animation: false, events: [],
      layout: { padding: 0 },
      plugins: { legend: { display: false }, tooltip: { enabled: false } },
      scales: {
        x: { stacked: true, display: false },
        y: {
          stacked: true, position: "right", min: 0, max: step * bands.length,
          afterBuildTicks: s => { s.ticks = levels.map(v => ({ value: v })); },
          afterFit: s => { s.width = 33; s.paddingTop = 0; s.paddingBottom = 0; },
          grid: { display: false, drawTicks: false }, border: { display: false },
          ticks: { callback: v => String(Math.round(v * 10) / 10), color: "#222", font: { family: "Liberation Sans", size: 11.5 }, autoSkip: false, padding: 4 }
        }
      }
    }
  });
}

drawMap([109, 14, 528, 460], contoursA, windLonA, windLatA, windDirA, pinsA, boxA, pointerA);
drawMap([751, 7, 1166, 459], contoursB, windLonB, windLatB, windDirB, pinsB, boxB, pointerB);
drawMap([117, 554, 522, 998], contoursC, windLonC, windLatC, windDirC, pinsC, boxC, pointerC);
drawMap([759, 554, 1166, 1000], contoursD, windLonD, windLatD, windDirD, pinsD, boxD, pointerD);

drawBar(558, 93, 287, levelsA, bandsA);
drawBar(1194, 23, 420, levelsB, bandsB);
drawBar(549, 586, 380, levelsC, bandsC);
drawBar(1194, 617, 320, levelsD, bandsD);

addText("area", "Daerah Penelitian", 179, 308);
addText("area", "Daerah Penelitian", 825, 311);
addText("area", "Daerah Penelitian", 190, 860);
addText("area", "Daerah Penelitian", 827, 841);

addText("grads", "GrADS/COLA", 9, 496);
addText("grads", "GrADS/COLA", 652, 496);
addText("grads", "GrADS/COLA", 22, 1035);
addText("grads", "GrADS/COLA", 664, 1038);
addText("stamp", "2025-05-16-23:21", 534, 496);
addText("stamp", "2025-05-16-23:26", 1172, 496);
addText("stamp", "2025-05-16-23:28", 528, 1035);
addText("stamp", "2025-05-16-23:29", 1172, 1038);

addText("caption", "a)", 303, 510);
addText("caption", "b)", 945, 510);
addText("caption", "c)", 304, 1053);
addText("caption", "d)", 945, 1053);
</script>
</body>
</html>
